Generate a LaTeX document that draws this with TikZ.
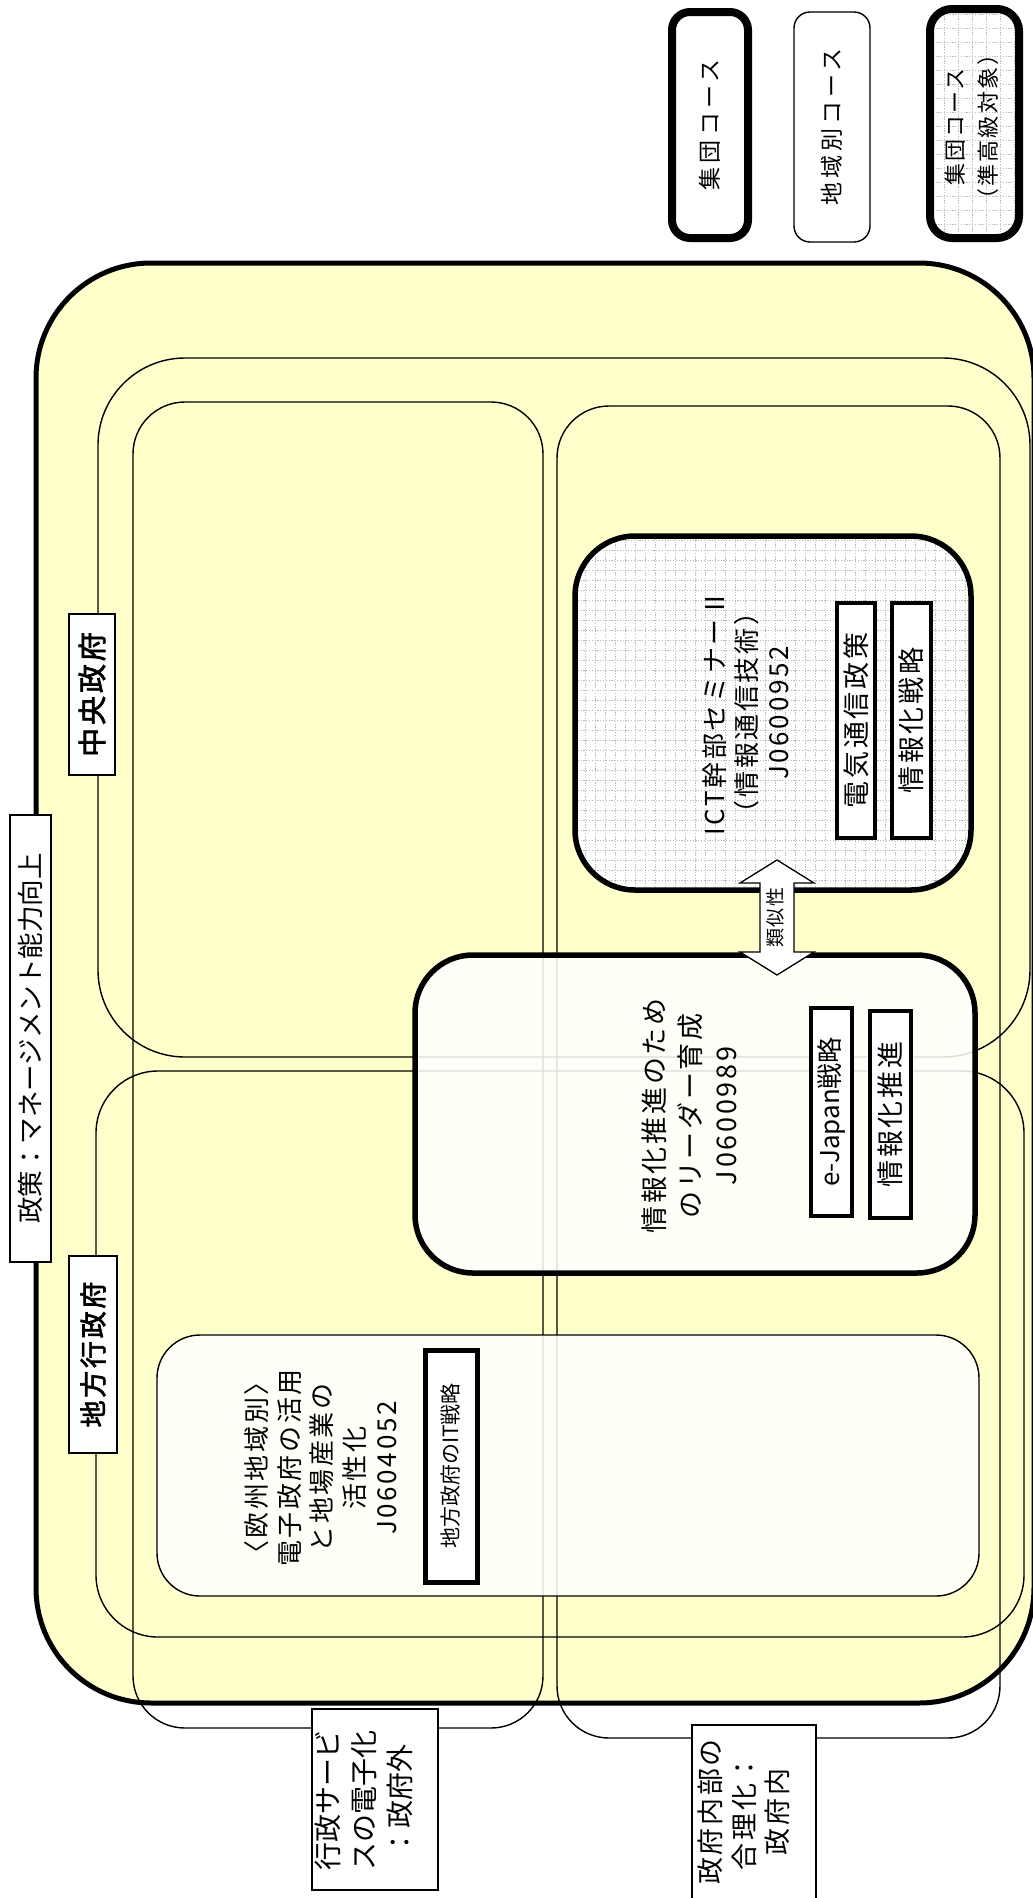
\documentclass[tikz,border=0pt]{standalone}
\usepackage{fontspec}
\setmainfont{Noto Sans CJK JP}[AutoFakeBold=2.5]
\newfontfamily\jsp{Noto Sans CJK JP}[LetterSpace=10,AutoFakeBold=2.5]
\newfontfamily\jspw{Noto Sans CJK JP}[LetterSpace=18]
\usetikzlibrary{calc}
\definecolor{yel}{RGB}{255,255,204}
\definecolor{gridc}{RGB}{185,185,185}
\newcommand\fs[2]{\fontsize{#1}{#2}\selectfont}
\tikzset{
  every node/.style={inner sep=0pt, outer sep=0pt},
  region/.style={draw, line width=1.4pt},
  heavy/.style={draw, line width=5.5pt, fill=white},
  tagbox/.style={draw, line width=4.5pt, fill=white, rotate=90},
  labelbox/.style={draw, line width=1.4pt, fill=white},
  vtext/.style={rotate=90, align=center},
  gridfill/.style={fill=white, path picture={
    \foreach \k in {0,...,60}{
      \draw[gridc, line width=0.8pt, dash pattern=on 1.2pt off 1.6pt]
        ([xshift={\k*#1 pt}]path picture bounding box.south west) --
        ([xshift={\k*#1 pt}]path picture bounding box.north west);
      \draw[gridc, line width=0.8pt, dash pattern=on 1.2pt off 1.6pt]
        ([yshift={\k*#1 pt}]path picture bounding box.south west) --
        ([yshift={\k*#1 pt}]path picture bounding box.south east);
    }}},
  arrowbody/.style={draw, fill=white, line width=1.3pt, line join=miter}
}
\begin{document}
\begin{tikzpicture}[x=1pt,y=-1pt]
\useasboundingbox (0,0) rectangle (1033,1898);

% outer policy area
\node[draw, line width=5pt, fill=yel, rounded corners=115pt,
      minimum width=998pt, minimum height=1440pt] (outer) at (535,983) {};

% columns and regions
\node[region, rounded corners=52pt, minimum width=410pt, minimum height=1326pt] (colout) at (338,1065) {};
\node[region, rounded corners=52pt, minimum width=443pt, minimum height=1332pt] (colin) at (778.5,1072) {};
\node[region, rounded corners=87pt, minimum width=932pt, minimum height=699pt] (central) at (564,707.5) {};
\node[region, rounded corners=62pt, minimum width=928pt, minimum height=566pt] (local) at (560,1354) {};

% ICT course (grid)
\node[heavy, gridfill=10, rounded corners=60pt, minimum width=396pt, minimum height=354pt] (ict) at (773,713) {};
\node[vtext, font=\jsp\fs{26}{32}] (icttext) at (746,713) {ICT幹部セミナーⅡ\\（情報通信技術）\\J0600952};
\node[tagbox, minimum width=235pt, minimum height=38pt, font=\jsp\fs{27}{30}] (t1) at (856,720.5) {電気通信政策};
\node[tagbox, minimum width=235pt, minimum height=39pt, font=\jsp\fs{27}{30}] (t2) at (911.5,720.5) {情報化戦略};

% leader course
\node[heavy, fill=white, fill opacity=0.86, rounded corners=58pt, minimum width=560pt, minimum height=318pt] (leader) at (695,1114) {};
\node[vtext, font=\jsp\fs{27}{36}] (leadertext) at (689,1116) {情報化推進のため\\のリーダー育成\\J0600989};
\node[tagbox, minimum width=208pt, minimum height=41pt, font=\fs{26}{30}] (t3) at (831.5,1112) {e-Japan戦略};
\node[tagbox, minimum width=207pt, minimum height=41pt, font=\jsp\fs{27}{30}] (t4) at (890.5,1114.5) {情報化推進};

% similarity arrow
\coordinate (atop) at ($(ict.south)+(4,-30)$);
\coordinate (abot) at ($(leader.north)+(82,20)$);
\draw[arrowbody] (atop) -- ++(-37,23) -- ++(20,0) -- ($(abot)+(-17,-23)$) -- ++(-20,0)
  -- (abot) -- ++(37,-23) -- ++(-20,0) -- ($(atop)+(17,23)$) -- ++(20,0) -- cycle;
\node[vtext, font=\jsp\fs{19}{22}] (sim) at ($(atop)!0.5!(abot)+(-2,0)$) {類似性};

% Europe course
\node[region, fill=white, fill opacity=0.86, rounded corners=43pt, minimum width=822pt, minimum height=261pt] (euro) at (568,1465.5) {};
\node[vtext, font=\jsp\fs{26}{32.5}] (eurotext) at (321,1468) {〈欧州地域別〉\\電子政府の活用\\と地場産業の\\活性化\\J0604052};
\node[tagbox, line width=5pt, minimum width=232pt, minimum height=52pt, font=\fs{21}{24}] (t5) at (451,1466) {地方政府のIT戦略};

% area labels
\node[labelbox, rotate=90, minimum width=447pt, minimum height=41pt, font=\fs{26.5}{30}] (policy) at (30.5,1038.5) {政策：マネージメント能力向上};
\node[labelbox, rotate=90, minimum width=161pt, minimum height=46pt, font=\bfseries\jsp\fs{29}{32}] (cg) at (92,694.5) {中央政府};
\node[labelbox, rotate=90, minimum width=197pt, minimum height=48pt, font=\bfseries\jsp\fs{27}{32}] (lg) at (93,1354.5) {地方行政府};

\node[labelbox, minimum width=126pt, minimum height=181pt] (outlab) at (375,1799.5) {};
\node[vtext, font=\fs{28}{36}] (outlabtext) at (364,1800) {行政サービ\\スの電子化\\：政府外};
\node[labelbox, minimum width=124pt, minimum height=185pt] (inlab) at (754,1817.5) {};
\node[vtext, font=\jsp\fs{27}{33.5}] (inlabtext) at (744,1812) {政府内部の\\合理化：\\政府内};

% legend
\node[draw, line width=8pt, fill=white, rounded corners=18pt, rotate=90,
      minimum width=226pt, minimum height=76pt, font=\jspw\fs{23}{26}] (leg1) at (710,125) {集団コース};
\node[draw, line width=1.4pt, fill=white, rounded corners=16pt, rotate=90,
      minimum width=230pt, minimum height=76pt, font=\jspw\fs{23}{26}] (leg2) at (832,127) {地域別コース};
\node[draw, line width=8pt, gridfill=14, rounded corners=22pt,
      minimum width=89pt, minimum height=229pt] (leg3) at (974.5,123.5) {};
\node[vtext, font=\jsp\fs{22}{33}] (leg3text) at (972,127) {集団コース\\（準高級対象）};
\end{tikzpicture}
\end{document}
